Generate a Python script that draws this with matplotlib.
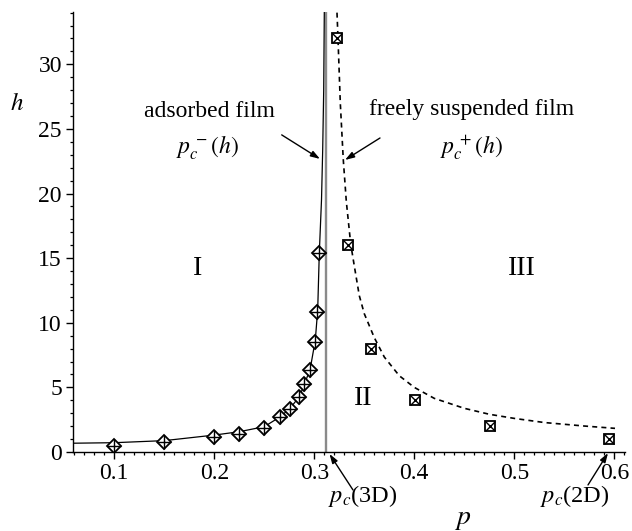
import matplotlib
matplotlib.use("Agg")
import matplotlib.pyplot as plt
from matplotlib.ticker import MultipleLocator

plt.rcParams['font.family'] = ['Liberation Serif', 'DejaVu Serif']
plt.rcParams['mathtext.fontset'] = 'stix'

# pc^-(h) fitted curve (adsorbed film)
curve_minus_p = [0.059, 0.1, 0.15, 0.2, 0.225, 0.25, 0.266, 0.276, 0.285, 0.29,
                 0.296, 0.301, 0.3034, 0.305, 0.3072, 0.3084, 0.3094, 0.310]
curve_minus_h = [0.68, 0.72, 0.88, 1.31, 1.57, 1.96, 2.73, 3.4, 4.28, 5.2,
                 6.47, 8.66, 11.0, 15.4, 19.5, 23.4, 28.0, 34.0]

# pc^+(h) fitted curve (freely suspended film)
curve_plus_p = [0.3227, 0.3237, 0.326, 0.329, 0.332, 0.3364, 0.340, 0.345, 0.350,
                0.360, 0.370, 0.385, 0.400, 0.420, 0.450, 0.475, 0.500, 0.530,
                0.570, 0.6007]
curve_plus_h = [34.0, 32.0, 27.0, 22.6, 19.4, 16.1, 14.4, 12.1, 10.7,
                8.85, 7.35, 5.9, 5.0, 4.15, 3.38, 2.92, 2.6, 2.28,
                2.01, 1.83]

# data points
adsorbed_p = [0.1, 0.15, 0.2, 0.225, 0.25, 0.266, 0.276, 0.285, 0.29, 0.296, 0.301, 0.303, 0.305]
adsorbed_h = [0.49, 0.8, 1.13, 1.39, 1.83, 2.68, 3.3, 4.28, 5.23, 6.34, 8.48, 10.8, 15.4]

suspended_p = [0.323, 0.3334, 0.3564, 0.4007, 0.4757, 0.595]
suspended_h = [32, 16, 8, 4, 2, 1]

pc_3d = 0.3116

x_ticks = [0.1, 0.2, 0.3, 0.4, 0.5, 0.6]
y_ticks = [0, 5, 10, 15, 20, 25, 30]

fig = plt.figure(figsize=(6.32, 5.31), dpi=100)
ax = fig.add_axes([73/632, 79/531, 552/632, 440/531])

ax.axvline(pc_3d, color='#8a8a8a', lw=1.7, zorder=1)
ax.plot(curve_minus_p, curve_minus_h, color='black', lw=0.9, zorder=2)
ax.plot(curve_plus_p, curve_plus_h, color='black', lw=1.2, ls=(0, (3, 2.5)), zorder=2)

ax.plot(adsorbed_p, adsorbed_h, ls='none', marker='D', ms=6.8, mfc='white', mec='black', mew=1.3, zorder=3)
ax.plot(adsorbed_p, adsorbed_h, ls='none', marker='+', ms=9.4, mec='black', mew=1.0, zorder=4)
ax.plot(suspended_p, suspended_h, ls='none', marker='s', ms=7.0, mfc='white', mec='black', mew=1.3, zorder=3)
ax.plot(suspended_p, suspended_h, ls='none', marker='x', ms=6.5, mec='black', mew=1.0, zorder=4)

ax.set_xlim(0.0587, 0.6107)
ax.set_ylim(0, 34.05)
ax.set_xticks(x_ticks)
ax.set_xticklabels([f"{t:g}" for t in x_ticks])
ax.set_yticks(y_ticks)
ax.set_yticklabels([str(t) for t in y_ticks])
ax.xaxis.set_minor_locator(MultipleLocator(0.01))
ax.yaxis.set_minor_locator(MultipleLocator(1))
for lab in ax.get_xticklabels() + ax.get_yticklabels():
    lab.set_fontfamily(['Liberation Serif', 'DejaVu Serif'])
for s in ['top', 'right']:
    ax.spines[s].set_visible(False)
for s in ['left', 'bottom']:
    ax.spines[s].set_linewidth(1.0)
ax.tick_params(which='major', direction='out', length=5, width=1.0, labelsize=17, pad=3)
ax.tick_params(which='minor', direction='out', length=2.5, width=0.9)

txt = dict(fontsize=17, ha='center', va='baseline', color='black')
ax.text(0.1947, 25.95, 'adsorbed film', **txt)
ax.text(0.1932, 23.14, r'$p_c^{\,-}(h)$', **txt)
ax.text(0.4577, 26.08, 'freely suspended film', **txt)
ax.text(0.4567, 23.14, r'$p_c^{\,+}(h)$', **txt)

ax.text(0.1832, 13.7, 'I', fontsize=20, ha='center', va='baseline')
ax.text(0.5077, 13.7, 'III', fontsize=20, ha='center', va='baseline')
ax.text(0.349, 3.6, 'II', fontsize=20, ha='center', va='baseline')

ax.text(0.3137, -3.85, r'$p_c$(3D)', fontsize=17.5, ha='left', va='baseline', clip_on=False)
ax.text(0.5257, -3.85, r'$p_c$(2D)', fontsize=17.5, ha='left', va='baseline', clip_on=False)
ax.text(0.4487, -5.55, r'$p$', fontsize=20, ha='center', va='baseline', clip_on=False)
ax.text(0.0027, 26.47, r'$h$', fontsize=18, ha='center', va='baseline', clip_on=False)

arrow = dict(arrowstyle='-|>,head_length=0.55,head_width=0.18', color='black', lw=1.0,
             shrinkA=0, shrinkB=0)
ax.annotate('', xy=(0.3057, 22.68), xytext=(0.2674, 24.54), arrowprops=arrow, annotation_clip=False)
ax.annotate('', xy=(0.3307, 22.6), xytext=(0.3657, 24.3), arrowprops=arrow, annotation_clip=False)
ax.annotate('', xy=(0.3152, -0.15), xytext=(0.3387, -2.94), arrowprops=arrow, annotation_clip=False)
ax.annotate('', xy=(0.5937, -0.08), xytext=(0.5737, -2.55), arrowprops=arrow, annotation_clip=False)

fig.savefig('out.png', dpi=100)
